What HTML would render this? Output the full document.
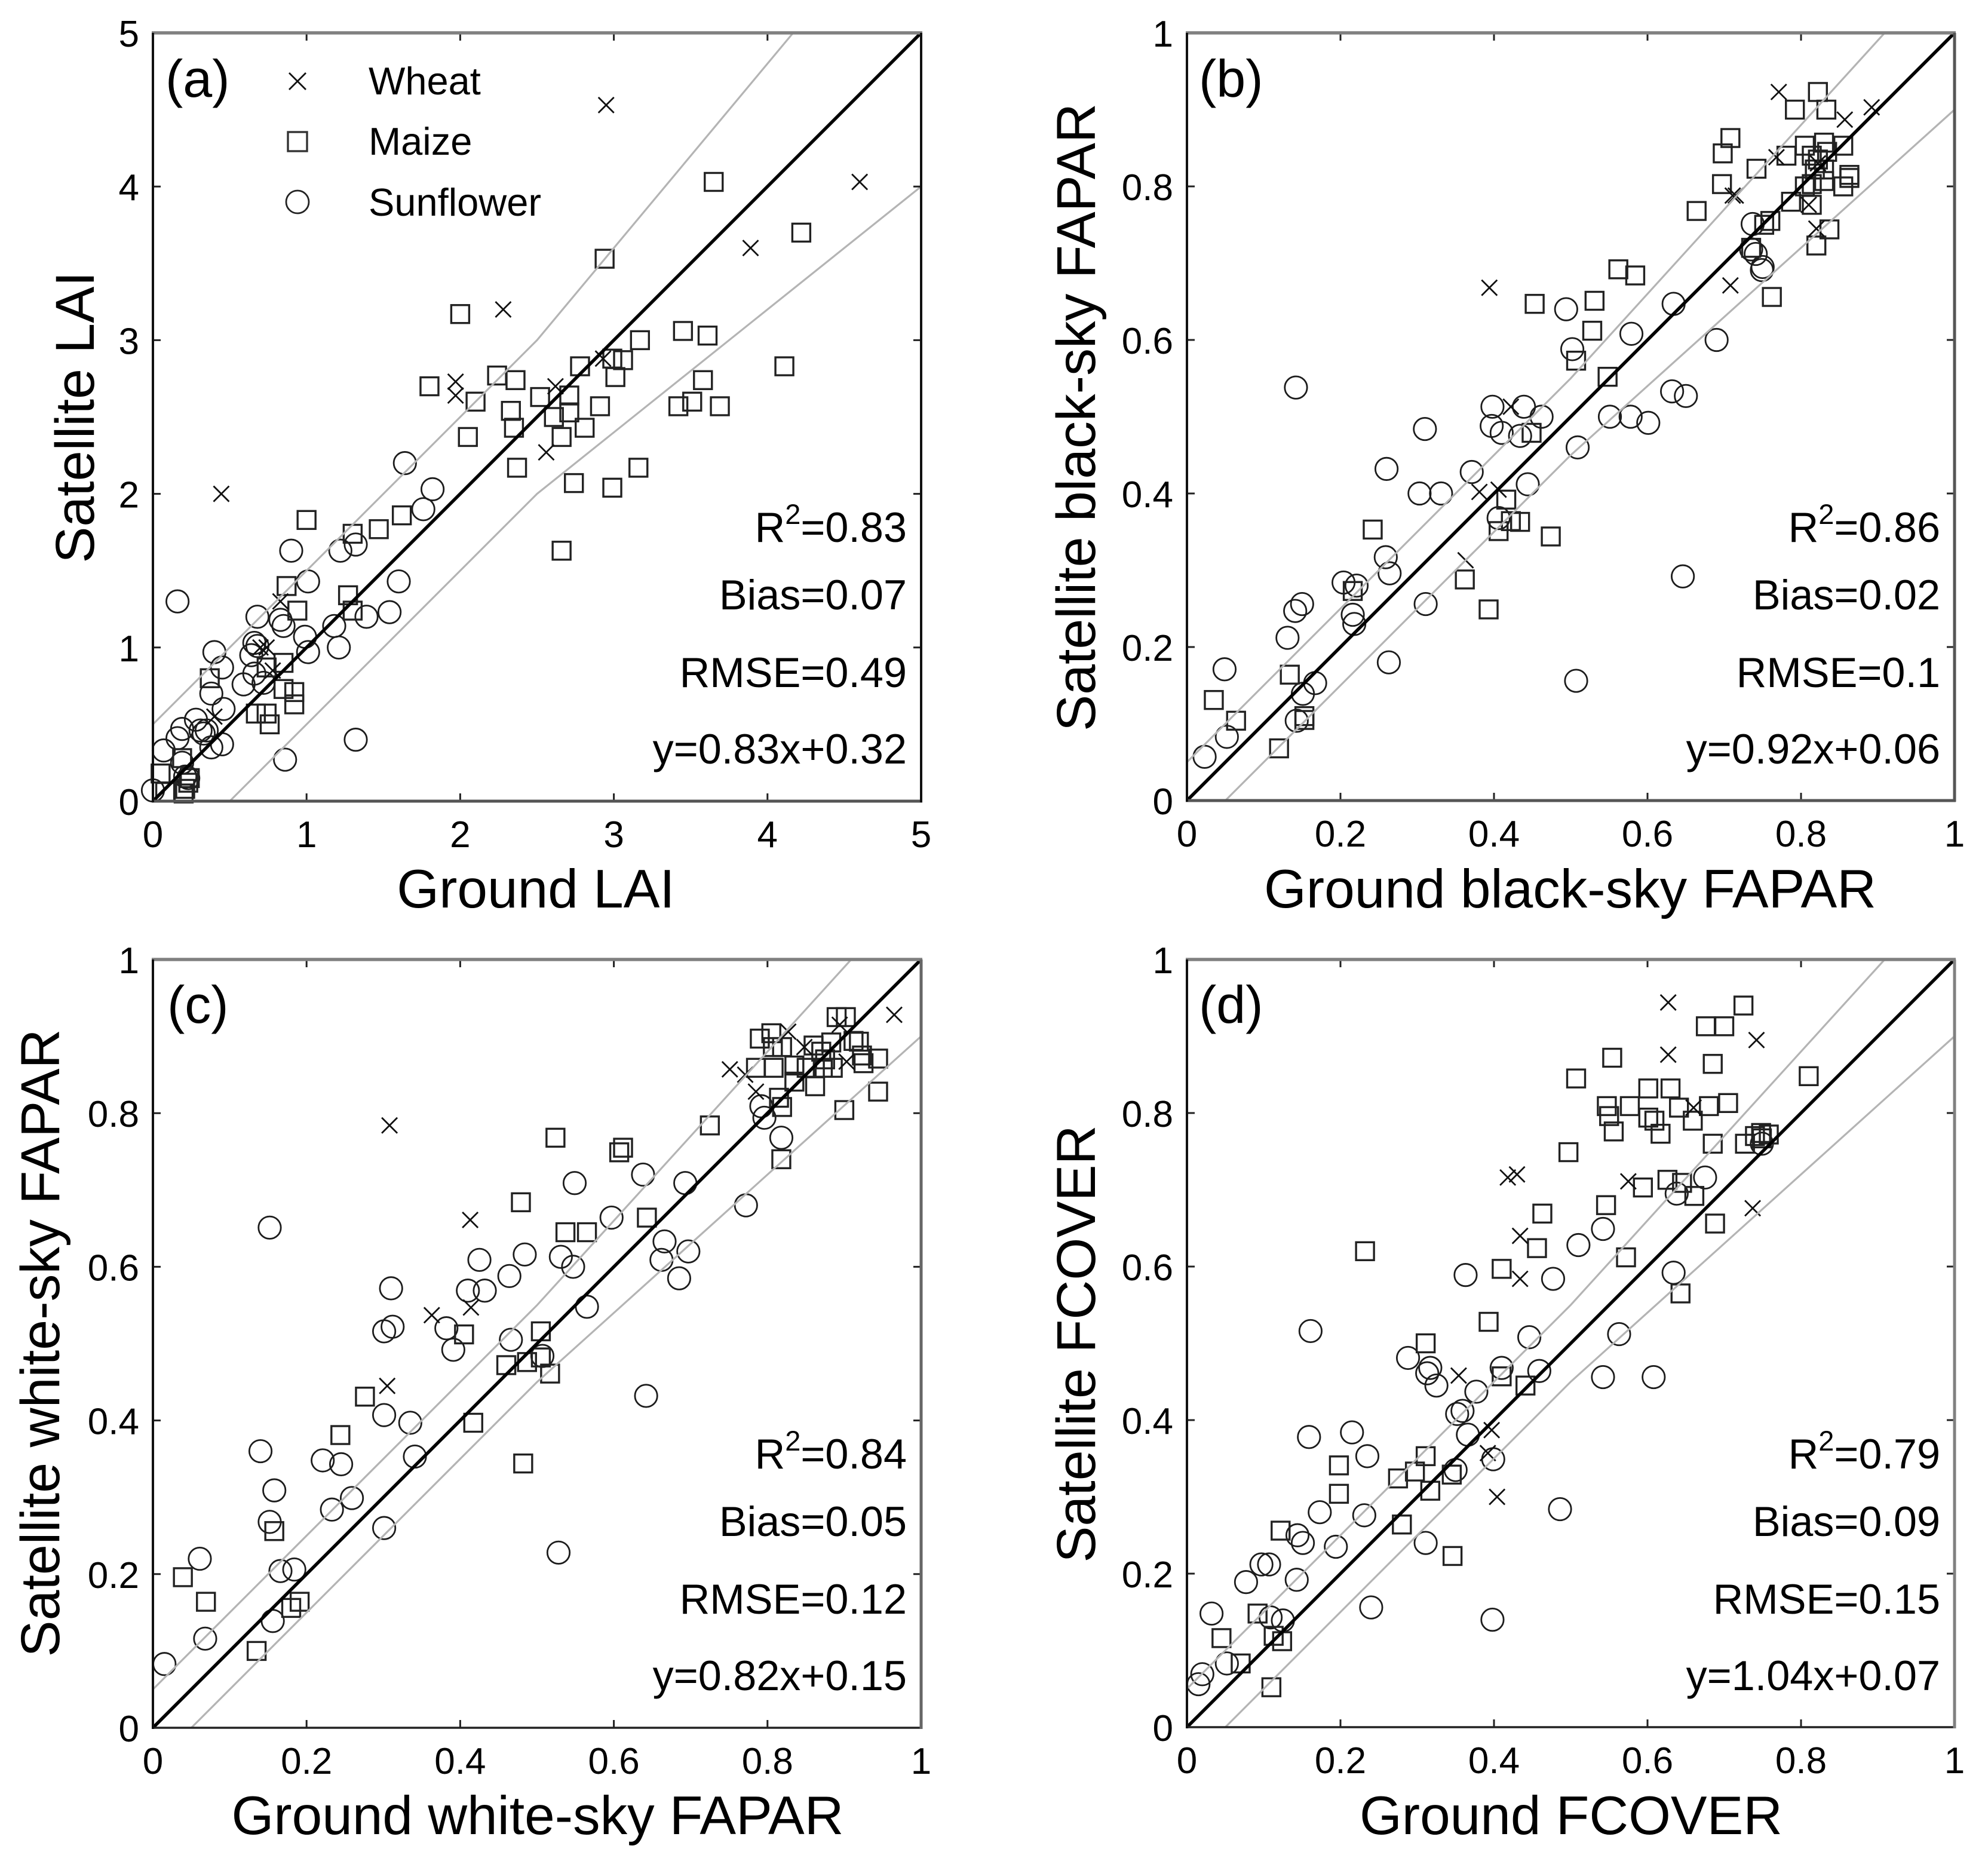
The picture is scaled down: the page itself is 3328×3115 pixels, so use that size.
<!DOCTYPE html>
<html lang="en">
<head>
<meta charset="utf-8">
<title>Satellite versus ground comparison scatter plots</title>
<style>
html,body{margin:0;padding:0;background:#fff;}
svg{display:block;}
text{font-family:"Liberation Sans",Arial,sans-serif;fill:#000;}
.tick{font-size:62px;}
.title{font-size:91px;}
.ytitle{font-size:91.5px;}
.stat{font-size:70.2px;text-anchor:end;}
.sup{font-size:47px;}
.tag{font-size:88px;}
.leg{font-size:65px;}
</style>
</head>
<body>
<svg id="figure" xmlns="http://www.w3.org/2000/svg" width="3328" height="3115" viewBox="0 0 3328 3115">
<rect x="0" y="0" width="3328" height="3115" fill="#fff"/>

<g id="panel-a">
  <g id="marks-a"></g>
  <text class="tag" x="277" y="162">(a)</text>
  <text class="title" x="897" y="1519" text-anchor="middle">Ground LAI</text>
  <text class="ytitle" transform="translate(157,698.5) rotate(-90)" text-anchor="middle">Satellite LAI</text>
  <text class="stat" x="1518" y="907">R<tspan class="sup" dy="-30">2</tspan><tspan dy="30">=0.83</tspan></text>
  <text class="stat" x="1518" y="1020">Bias=0.07</text>
  <text class="stat" x="1518" y="1150">RMSE=0.49</text>
  <text class="stat" x="1518" y="1278">y=0.83x+0.32</text>
  <g>
    <g>
      <path d="M484 122L512 150M512 122L484 150" stroke="#111" stroke-width="2.8" fill="none"/>
      <text class="leg" x="617" y="158">Wheat</text>
    </g>
    <g>
      <rect x="482" y="221" width="32" height="32" fill="none" stroke="#333" stroke-width="3.4"/>
      <text class="leg" x="617" y="259">Maize</text>
    </g>
    <g>
      <circle cx="498" cy="338" r="19" fill="none" stroke="#222" stroke-width="2.8"/>
      <text class="leg" x="617" y="361">Sunflower</text>
    </g>
  </g>
</g>

<g id="panel-b">
  <g id="marks-b"></g>
  <text class="tag" x="2007" y="162">(b)</text>
  <text class="title" x="2628.5" y="1519" text-anchor="middle">Ground black-sky FAPAR</text>
  <text class="ytitle" transform="translate(1833,698.5) rotate(-90)" text-anchor="middle">Satellite black-sky FAPAR</text>
  <text class="stat" x="3248" y="907">R<tspan class="sup" dy="-30">2</tspan><tspan dy="30">=0.86</tspan></text>
  <text class="stat" x="3248" y="1020">Bias=0.02</text>
  <text class="stat" x="3248" y="1150">RMSE=0.1</text>
  <text class="stat" x="3248" y="1278">y=0.92x+0.06</text>
</g>

<g id="panel-c">
  <g id="marks-c"></g>
  <text class="tag" x="280" y="1712">(c)</text>
  <text class="title" x="900" y="3070" text-anchor="middle">Ground white-sky FAPAR</text>
  <text class="ytitle" transform="translate(99,2248) rotate(-90)" text-anchor="middle">Satellite white-sky FAPAR</text>
  <text class="stat" x="1518" y="2458">R<tspan class="sup" dy="-30">2</tspan><tspan dy="30">=0.84</tspan></text>
  <text class="stat" x="1518" y="2571">Bias=0.05</text>
  <text class="stat" x="1518" y="2701">RMSE=0.12</text>
  <text class="stat" x="1518" y="2829">y=0.82x+0.15</text>
</g>

<g id="panel-d">
  <g id="marks-d"></g>
  <text class="tag" x="2007" y="1712">(d)</text>
  <text class="title" x="2630" y="3070" text-anchor="middle">Ground FCOVER</text>
  <text class="ytitle" transform="translate(1833,2249.5) rotate(-90)" text-anchor="middle">Satellite FCOVER</text>
  <text class="stat" x="3248" y="2458">R<tspan class="sup" dy="-30">2</tspan><tspan dy="30">=0.79</tspan></text>
  <text class="stat" x="3248" y="2571">Bias=0.09</text>
  <text class="stat" x="3248" y="2701">RMSE=0.15</text>
  <text class="stat" x="3248" y="2829">y=1.04x+0.07</text>
</g>
</svg>

<script>
// ---------- tick values and labels ----------
const laiTicks = [0,1,2,3,4,5];
const laiTickLabels = ['0','1','2','3','4','5'];
const unitTicks = [0,0.2,0.4,0.6,0.8,1];
const unitTickLabels = ['0','0.2','0.4','0.6','0.8','1'];

// ---------- reference envelopes ----------
const laiUpperX = [0,2.5,4.167];
const laiUpperY = [0.5,3,5];
const laiLowerX = [0.5,2.5,5];
const laiLowerY = [0,2,4];
const unitUpperX = [0,0.5,0.909];
const unitUpperY = [0.05,0.55,1];
const unitLowerX = [0.05,0.5,1];
const unitLowerY = [0,0.45,0.9];

// ---------- panel (a) LAI ----------
const aWheatX = [0.445,2.95,4.60,3.89,2.28,1.97,1.97,2.62,2.93,2.56,0.83,0.74,0.70,0.78,0.40];
const aWheatY = [2.0,4.53,4.03,3.60,3.20,2.73,2.64,2.70,2.88,2.27,1.30,1.00,1.00,0.85,0.55];
const aMaizeX = [3.65,4.22,2.94,2.0,3.45,3.61,3.17,4.11,2.78,2.99,3.06,3.01,2.24,2.36,3.58,1.80,2.10,2.52,2.71,2.33,2.91,3.42,3.51,3.69,2.61,2.71,2.35,2.81,2.05,2.66,2.37,3.16,2.74,2.99,2.66,1.0,1.62,1.47,1.30,0.87,1.27,1.30,0.94,0.37,0.85,0.74,0.85,0.92,0.92,0.67,0.74,0.76,0.05,0.08,0.21,0.23,0.19,0.24,0.20];
const aMaizeY = [4.03,3.70,3.53,3.17,3.06,3.03,3.0,2.83,2.83,2.88,2.87,2.76,2.77,2.74,2.74,2.70,2.60,2.63,2.64,2.54,2.57,2.57,2.60,2.57,2.50,2.53,2.43,2.43,2.37,2.37,2.17,2.17,2.07,2.04,1.63,1.83,1.86,1.77,1.74,1.40,1.34,1.24,1.24,0.80,0.90,0.87,0.73,0.71,0.63,0.57,0.57,0.50,0.18,0.06,0.08,0.12,0.28,0.15,0.05];
const aSunX = [1.64,1.82,1.76,0.90,1.22,1.32,0.16,1.01,1.60,1.54,1.39,0.68,0.83,0.85,1.18,1.21,0.99,1.01,0.66,0.68,0.64,0.40,0.45,0.66,0.59,0.72,0.38,0.46,0.28,0.19,0.35,0.33,0.31,0.16,0.38,0.45,0.07,0.19,0.86,1.32,0.0,0.23,0.21];
const aSunY = [2.20,2.03,1.90,1.63,1.63,1.67,1.30,1.43,1.43,1.23,1.20,1.20,1.18,1.14,1.14,1.00,1.07,0.97,1.03,1.01,0.95,0.97,0.87,0.83,0.76,0.77,0.70,0.60,0.53,0.47,0.46,0.44,0.46,0.41,0.35,0.37,0.33,0.25,0.27,0.40,0.07,0.15,0.16];

// ---------- panel (b) black-sky FAPAR ----------
const bWheatX = [0.771,0.892,0.857,0.768,0.711,0.715,0.822,0.81,0.82,0.708,0.394,0.381,0.406,0.363,0.422];
const bWheatY = [0.923,0.903,0.887,0.838,0.788,0.788,0.83,0.776,0.745,0.671,0.668,0.402,0.405,0.313,0.513];
const bMaizeX = [0.822,0.792,0.833,0.708,0.698,0.805,0.83,0.855,0.781,0.814,0.822,0.834,0.742,0.818,0.83,0.863,0.863,0.697,0.814,0.83,0.805,0.855,0.664,0.787,0.814,0.76,0.752,0.837,0.82,0.735,0.562,0.584,0.762,0.453,0.531,0.528,0.507,0.548,0.449,0.416,0.434,0.422,0.406,0.474,0.242,0.362,0.393,0.216,0.134,0.035,0.064,0.12,0.153,0.153];
const bMaizeY = [0.923,0.90,0.90,0.863,0.843,0.853,0.857,0.853,0.84,0.84,0.835,0.845,0.823,0.822,0.822,0.815,0.811,0.803,0.803,0.807,0.80,0.80,0.768,0.78,0.776,0.755,0.75,0.744,0.723,0.72,0.692,0.684,0.656,0.647,0.651,0.612,0.573,0.552,0.479,0.392,0.363,0.364,0.351,0.344,0.353,0.288,0.249,0.273,0.164,0.131,0.104,0.068,0.11,0.105];
const bSunX = [0.737,0.735,0.741,0.749,0.75,0.634,0.494,0.502,0.579,0.69,0.142,0.632,0.65,0.398,0.439,0.462,0.551,0.578,0.601,0.397,0.41,0.434,0.31,0.509,0.26,0.371,0.444,0.303,0.331,0.406,0.259,0.264,0.646,0.204,0.221,0.216,0.218,0.15,0.141,0.131,0.311,0.263,0.507,0.049,0.167,0.151,0.143,0.052,0.023];
const bSunY = [0.751,0.718,0.712,0.691,0.695,0.647,0.64,0.588,0.608,0.60,0.538,0.533,0.527,0.513,0.513,0.50,0.50,0.50,0.492,0.488,0.479,0.475,0.484,0.46,0.432,0.428,0.412,0.40,0.40,0.368,0.317,0.296,0.292,0.284,0.28,0.242,0.23,0.256,0.247,0.212,0.256,0.18,0.156,0.171,0.153,0.139,0.104,0.083,0.057];

// ---------- panel (c) white-sky FAPAR ----------
const cWheatX = [0.965,0.308,0.413,0.363,0.414,0.305,0.751,0.771,0.785,0.827,0.894,0.903,0.848];
const cWheatY = [0.928,0.784,0.661,0.537,0.547,0.445,0.857,0.85,0.828,0.906,0.915,0.867,0.886];
const cMaizeX = [0.89,0.902,0.79,0.805,0.807,0.819,0.785,0.808,0.86,0.883,0.912,0.919,0.923,0.944,0.835,0.835,0.862,0.872,0.885,0.851,0.87,0.944,0.815,0.819,0.90,0.725,0.524,0.612,0.607,0.818,0.479,0.643,0.537,0.565,0.405,0.505,0.46,0.487,0.505,0.517,0.276,0.417,0.244,0.482,0.158,0.039,0.069,0.191,0.18,0.135,0.925,0.875];
const cMaizeY = [0.925,0.925,0.897,0.904,0.886,0.886,0.859,0.859,0.888,0.892,0.894,0.893,0.875,0.871,0.862,0.841,0.835,0.859,0.859,0.859,0.88,0.828,0.82,0.808,0.804,0.784,0.768,0.755,0.749,0.74,0.684,0.664,0.645,0.645,0.512,0.516,0.472,0.476,0.482,0.461,0.431,0.397,0.381,0.344,0.256,0.196,0.164,0.164,0.156,0.10,0.865,0.87];
const cSunX = [0.792,0.796,0.818,0.638,0.549,0.693,0.597,0.772,0.152,0.666,0.697,0.531,0.662,0.484,0.425,0.547,0.685,0.464,0.41,0.432,0.31,0.565,0.312,0.301,0.382,0.391,0.466,0.507,0.642,0.301,0.335,0.14,0.221,0.245,0.341,0.158,0.259,0.233,0.152,0.301,0.528,0.061,0.184,0.166,0.156,0.068,0.015];
const cSunY = [0.809,0.794,0.768,0.72,0.709,0.709,0.664,0.68,0.651,0.633,0.62,0.613,0.609,0.616,0.609,0.60,0.585,0.588,0.569,0.569,0.572,0.548,0.522,0.516,0.52,0.492,0.505,0.484,0.432,0.407,0.397,0.36,0.348,0.343,0.353,0.309,0.299,0.284,0.268,0.26,0.228,0.22,0.206,0.204,0.139,0.116,0.083];

// ---------- panel (d) FCOVER ----------
const dWheatX = [0.627,0.742,0.627,0.66,0.575,0.43,0.418,0.434,0.434,0.737,0.354,0.397,0.392,0.404];
const dWheatY = [0.944,0.895,0.876,0.807,0.711,0.72,0.716,0.64,0.584,0.676,0.458,0.387,0.357,0.30];
const dMaizeX = [0.725,0.676,0.70,0.685,0.554,0.507,0.81,0.601,0.63,0.547,0.577,0.641,0.68,0.705,0.55,0.601,0.609,0.659,0.556,0.617,0.685,0.727,0.74,0.748,0.758,0.749,0.497,0.626,0.645,0.594,0.661,0.546,0.463,0.688,0.456,0.572,0.232,0.41,0.643,0.393,0.311,0.41,0.441,0.311,0.198,0.297,0.275,0.345,0.317,0.198,0.28,0.122,0.346,0.092,0.045,0.113,0.124,0.07,0.11];
const dMaizeY = [0.94,0.913,0.913,0.864,0.872,0.845,0.848,0.832,0.832,0.809,0.809,0.807,0.809,0.813,0.796,0.794,0.79,0.79,0.776,0.773,0.76,0.76,0.77,0.774,0.772,0.767,0.749,0.713,0.709,0.703,0.692,0.68,0.669,0.656,0.624,0.612,0.62,0.597,0.565,0.528,0.50,0.457,0.445,0.353,0.341,0.333,0.324,0.329,0.308,0.304,0.264,0.256,0.223,0.148,0.116,0.119,0.112,0.083,0.052];
const dSunX = [0.675,0.749,0.638,0.542,0.51,0.363,0.477,0.634,0.161,0.563,0.446,0.288,0.317,0.313,0.459,0.41,0.325,0.377,0.542,0.608,0.352,0.359,0.159,0.215,0.366,0.235,0.399,0.35,0.173,0.231,0.486,0.144,0.151,0.194,0.311,0.097,0.107,0.143,0.077,0.032,0.24,0.398,0.109,0.125,0.052,0.02,0.015];
const dSunY = [0.716,0.76,0.695,0.649,0.628,0.589,0.584,0.592,0.516,0.512,0.508,0.481,0.468,0.461,0.464,0.468,0.445,0.437,0.456,0.456,0.408,0.412,0.378,0.384,0.381,0.353,0.349,0.335,0.28,0.276,0.284,0.25,0.24,0.235,0.24,0.212,0.212,0.192,0.189,0.148,0.156,0.14,0.143,0.139,0.083,0.069,0.056];

// ---------- drawing ----------
const NS = 'http://www.w3.org/2000/svg';
function mk(tag, parent, attrs) {
  const el = document.createElementNS(NS, tag);
  for (const k in attrs) el.setAttribute(k, attrs[k]);
  parent.appendChild(el);
  return el;
}

function drawPanel(cfg) {
  const g = document.getElementById(cfg.mount);
  const L = cfg.left, R = cfg.left + cfg.size, T = cfg.top, B = cfg.top + cfg.size;
  const sx = v => L + v / cfg.max * cfg.size;
  const sy = v => B - v / cfg.max * cfg.size;

  cfg.sunX.forEach((x, i) => {
    const el = mk('circle', g, {cx: sx(x), cy: sy(cfg.sunY[i]), r: 18.7, fill: 'none', stroke: '#1c1c1c', 'stroke-width': 2.8});
    
    
  });
  cfg.maizeX.forEach((x, i) => {
    const el = mk('rect', g, {x: sx(x) - 15, y: sy(cfg.maizeY[i]) - 15, width: 30, height: 30, fill: 'none', stroke: '#222', 'stroke-width': 3.4});
    
    
  });
  cfg.wheatX.forEach((x, i) => {
    const cx = sx(x), cy = sy(cfg.wheatY[i]), h = 13;
    const el = mk('path', g, {d: `M${cx-h} ${cy-h}L${cx+h} ${cy+h}M${cx+h} ${cy-h}L${cx-h} ${cy+h}`, fill: 'none', stroke: '#111', 'stroke-width': 2.8});
    
    
  });

  const up = mk('polyline', g, {points: cfg.upX.map((x, i) => sx(x) + ',' + sy(cfg.upY[i])).join(' '), fill: 'none', stroke: '#b4b4b4', 'stroke-width': 3.2});
  
  
  const lo = mk('polyline', g, {points: cfg.loX.map((x, i) => sx(x) + ',' + sy(cfg.loY[i])).join(' '), fill: 'none', stroke: '#b4b4b4', 'stroke-width': 3.2});
  
  
  const one = mk('line', g, {x1: sx(0), y1: sy(0), x2: sx(cfg.max), y2: sy(cfg.max), stroke: '#000', 'stroke-width': 5.5});
  
  

  cfg.ticks.forEach((t, i) => {
    const x = sx(t), y = sy(t), len = 13;
    const tk = mk('path', g, {d: `M${x} ${B}V${B-len}M${x} ${T}V${T+len}M${L} ${y}H${L+len}M${R} ${y}H${R-len}`, fill: 'none', stroke: '#222', 'stroke-width': 3});
    
    
    const xl = mk('text', g, {class: 'tick', x: x, y: B + 77, 'text-anchor': 'middle'});
    
    
    xl.textContent = cfg.labels[i];
    const yl = mk('text', g, {class: 'tick', x: L - 23, y: y + 23, 'text-anchor': 'end'});
    
    
    yl.textContent = cfg.labels[i];
  });

  const top = mk('line', g, {x1: L - 2, x2: R + 2, y1: T, y2: T, stroke: '#808080', 'stroke-width': 5.5});
  
  
  const bottom = mk('line', g, {x1: L - 2, x2: R + 2, y1: B, y2: B, stroke: cfg.bottomColor, 'stroke-width': cfg.bottomWidth});
  
  
  const left = mk('line', g, {x1: L, x2: L, y1: T, y2: B + 2, stroke: '#111', 'stroke-width': 4});
  
  
  const right = mk('line', g, {x1: R, x2: R, y1: T, y2: B + 2, stroke: cfg.rightColor, 'stroke-width': cfg.rightWidth});
  
  
}

drawPanel({mount:'marks-a',left:256,top:55,size:1286,max:5,ticks:laiTicks,labels:laiTickLabels,
  wheatX:aWheatX,wheatY:aWheatY,maizeX:aMaizeX,maizeY:aMaizeY,sunX:aSunX,sunY:aSunY,
  upX:laiUpperX,upY:laiUpperY,loX:laiLowerX,loY:laiLowerY,bottomColor:'#555',bottomWidth:5,rightColor:'#111',rightWidth:4});
drawPanel({mount:'marks-b',left:1987,top:55,size:1285,max:1,ticks:unitTicks,labels:unitTickLabels,
  wheatX:bWheatX,wheatY:bWheatY,maizeX:bMaizeX,maizeY:bMaizeY,sunX:bSunX,sunY:bSunY,
  upX:unitUpperX,upY:unitUpperY,loX:unitLowerX,loY:unitLowerY,bottomColor:'#555',bottomWidth:5,rightColor:'#555',rightWidth:5});
drawPanel({mount:'marks-c',left:256,top:1606,size:1286,max:1,ticks:unitTicks,labels:unitTickLabels,
  wheatX:cWheatX,wheatY:cWheatY,maizeX:cMaizeX,maizeY:cMaizeY,sunX:cSunX,sunY:cSunY,
  upX:unitUpperX,upY:unitUpperY,loX:unitLowerX,loY:unitLowerY,bottomColor:'#222',bottomWidth:3.5,rightColor:'#666',rightWidth:5});
drawPanel({mount:'marks-d',left:1987,top:1606,size:1285,max:1,ticks:unitTicks,labels:unitTickLabels,
  wheatX:dWheatX,wheatY:dWheatY,maizeX:dMaizeX,maizeY:dMaizeY,sunX:dSunX,sunY:dSunY,
  upX:unitUpperX,upY:unitUpperY,loX:unitLowerX,loY:unitLowerY,bottomColor:'#222',bottomWidth:3.5,rightColor:'#808080',rightWidth:5});
</script>
</body>
</html>
